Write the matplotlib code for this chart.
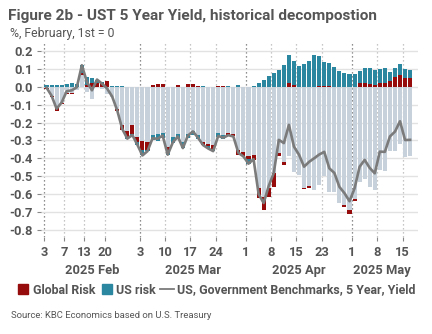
import numpy as np
import pandas as pd
import matplotlib
matplotlib.use("Agg")
import matplotlib.pyplot as plt
from matplotlib.lines import Line2D
import matplotlib.transforms as mtransforms

plt.rcParams['font.family'] = ['Roboto', 'DejaVu Sans']

# trading days (Presidents' Day and Good Friday closed)
days = pd.bdate_range('2025-02-03', '2025-05-16')
days = days[~days.isin(pd.to_datetime(['2025-02-17', '2025-04-18']))]

# decomposition of the change in yield since 1 Feb, percentage points
residual = [-0.005, -0.05, -0.12, -0.089, -0.033, -0.033, -0.02, 0.065, -0.03, -0.07,
            0.0, -0.01, -0.04, -0.06, -0.125, -0.213, -0.25, -0.215, -0.28, -0.304,
            -0.31, -0.27, -0.266, -0.26, -0.335, -0.28, -0.266, -0.31, -0.266, -0.248,
            -0.27, -0.31, -0.318, -0.326, -0.26, -0.27, -0.26, -0.265, -0.355, -0.364,
            -0.385, -0.38, -0.565, -0.615, -0.565, -0.48, -0.37, -0.42, -0.39, -0.478,
            -0.495, -0.564, -0.556, -0.577, -0.55, -0.50, -0.586, -0.59, -0.65, -0.66,
            -0.69, -0.625, -0.535, -0.515, -0.56, -0.575, -0.463, -0.47, -0.36, -0.357,
            -0.32, -0.395, -0.39]
global_risk = [-0.007, -0.01, -0.013, -0.007, -0.01, -0.008, 0.0, 0.01, 0.01, 0.02,
               0.02, 0.02, 0.03, 0.0, -0.01, -0.028, -0.03, -0.05, -0.03, -0.05,
               -0.044, 0.01, 0.013, 0.015, -0.02, 0.0, 0.01, 0.0, 0.013, 0.018,
               0.005, -0.018, -0.015, -0.022, 0.005, 0.005, -0.014, -0.008, -0.025, -0.026,
               -0.02, -0.03, -0.055, -0.075, -0.05, -0.08, -0.02, -0.015, 0.02, 0.01,
               0.0, -0.01, -0.009, 0.0, 0.005, 0.005, 0.005, 0.0, 0.0, -0.01,
               -0.019, -0.012, 0.019, 0.022, 0.015, 0.008, 0.019, 0.022, 0.034, 0.056,
               0.065, 0.05, 0.047]
us_risk = [0.008, 0.01, 0.01, 0.01, 0.018, 0.02, 0.018, 0.045, 0.045, 0.03,
           0.02, 0.006, 0.0, 0.005, 0.003, 0.005, -0.01, -0.005, -0.015, -0.03,
           -0.006, -0.028, -0.038, -0.028, -0.025, -0.032, -0.022, -0.033, -0.02, -0.02,
           -0.02, 0.002, -0.012, -0.012, -0.02, -0.02, 0.003, -0.005, 0.01, 0.0,
           -0.025, 0.005, 0.02, 0.04, 0.06, 0.078, 0.093, 0.12, 0.157, 0.133,
           0.115, 0.127, 0.145, 0.177, 0.166, 0.131, 0.125, 0.108, 0.09, 0.075,
           0.069, 0.069, 0.069, 0.084, 0.091, 0.083, 0.081, 0.084, 0.048, 0.05,
           0.062, 0.047, 0.046]
yield_5y = [-0.005, -0.05, -0.123, -0.088, -0.025, -0.02, -0.003, 0.12, 0.027, -0.02,
            0.04, 0.017, -0.01, -0.055, -0.132, -0.236, -0.29, -0.27, -0.325, -0.384,
            -0.36, -0.288, -0.291, -0.273, -0.38, -0.312, -0.278, -0.343, -0.273, -0.25,
            -0.285, -0.326, -0.345, -0.36, -0.275, -0.285, -0.271, -0.278, -0.37, -0.39,
            -0.43, -0.405, -0.60, -0.65, -0.555, -0.482, -0.297, -0.315, -0.213, -0.335,
            -0.38, -0.447, -0.42, -0.40, -0.379, -0.364, -0.456, -0.482, -0.56, -0.595,
            -0.64, -0.568, -0.447, -0.409, -0.454, -0.484, -0.363, -0.364, -0.278, -0.251,
            -0.193, -0.298, -0.297]

tick_dates = ['2025-02-03', '2025-02-07', '2025-02-13', '2025-02-20',
              '2025-03-03', '2025-03-10', '2025-03-17', '2025-03-24',
              '2025-04-01', '2025-04-08', '2025-04-15', '2025-04-23',
              '2025-05-01', '2025-05-08', '2025-05-15']
tick_labels = ['3', '7', '13', '20', '3', '10', '17', '24', '1', '8', '15', '23', '1', '8', '15']
month_labels = ['2025 Feb', '2025 Mar', '2025 Apr', '2025 May']

RED = '#960b0b'
TEAL = '#2b869f'
GREY = '#c6d1db'
LINE = '#7b7b7b'
TXT = '#555555'

fig = plt.figure(figsize=(4.32, 3.34), dpi=100)
ax = fig.add_axes([41 / 432, 1 - 237 / 334, 377 / 432, 195 / 334])

x = np.arange(len(days))
series = [(residual, GREY), (global_risk, RED), (us_risk, TEAL)]
pos_base = np.zeros(len(x))
neg_base = np.zeros(len(x))
for vals, col in series:
    v = np.array(vals)
    base = np.where(v >= 0, pos_base, neg_base)
    ax.bar(x, v, bottom=base, width=0.8, color=col, linewidth=0, zorder=2)
    pos_base += np.clip(v, 0, None)
    neg_base += np.clip(v, None, 0)

ax.plot(x, yield_5y, color=LINE, lw=1.9, zorder=3, solid_joinstyle='round')

ax.set_xlim(-1.09, 73.56)
ax.set_ylim(-0.84, 0.25)

# day ticks sit on the left edge of each day's slot
tpos = [days.get_loc(pd.Timestamp(d)) - 0.5 for d in tick_dates]
ax.set_xticks(tpos)
ax.set_xticklabels(tick_labels)
for d, p in zip(tick_dates, tpos):
    first = d in ('2025-02-03', '2025-03-03', '2025-04-01', '2025-05-01')
    ax.axvline(p, color='#6a6a6a' if first else '#b4b4b4', lw=0.9,
               ls=(0, (1, 2.2)), zorder=1)

yt = np.round(np.arange(-0.8, 0.21, 0.1), 1)
ax.set_yticks(yt)
ax.set_yticklabels(['%.1f' % v if v != 0 else '0.0' for v in yt])
ax.grid(axis='y', color='#e2e2e2', lw=1.0, zorder=0)

for s in ax.spines.values():
    s.set_visible(False)
ax.tick_params(axis='both', colors='#888888', labelcolor=TXT, labelsize=9.3,
               length=3, width=0.8)
ax.tick_params(axis='x', pad=3.5)
ax.tick_params(axis='y', pad=3)
for lab in ax.get_xticklabels() + ax.get_yticklabels():
    lab.set_fontweight('bold')

# month captions under the day ticks
trans = mtransforms.blended_transform_factory(ax.transData, ax.transAxes)
month_starts = ['2025-02-03', '2025-03-03', '2025-04-01', '2025-05-01']
edges = [days.get_loc(pd.Timestamp(d)) - 0.5 for d in month_starts] + [len(days) - 0.5]
for k, name in enumerate(month_labels):
    ax.text((edges[k] + edges[k + 1]) / 2, -0.172, name, transform=trans,
            ha='center', va='center', fontsize=9.3, fontweight='bold', color=TXT)

fig.text(8 / 432, 1 - 16 / 334, 'Figure 2b - UST 5 Year Yield, historical decompostion',
         fontsize=11.1, fontweight='bold', color=TXT, va='center')
fig.text(10 / 432, 1 - 34 / 334, '%, February, 1st = 0', fontsize=8.8, color=TXT, va='center')
fig.text(11 / 432, 1 - 315 / 334, 'Source: KBC Economics based on U.S. Treasury',
         fontsize=6.8, color=TXT, va='center')

handles = [Line2D([], [], marker='s', ls='none', color=RED, markersize=6.5),
           Line2D([], [], marker='s', ls='none', color=TEAL, markersize=6.5),
           Line2D([], [], color=LINE, lw=1.3)]
leg = fig.legend(handles, ['Global Risk', 'US risk', 'US, Government Benchmarks, 5 Year, Yield'],
                 loc='center', bbox_to_anchor=(0.5, 1 - 290 / 334), ncol=3, frameon=False,
                 handlelength=1.1, handletextpad=0.25, columnspacing=0.35,
                 prop={'weight': 'bold', 'size': 8.9})
for t in leg.get_texts():
    t.set_color(TXT)

fig.savefig('out.png', dpi=100)
